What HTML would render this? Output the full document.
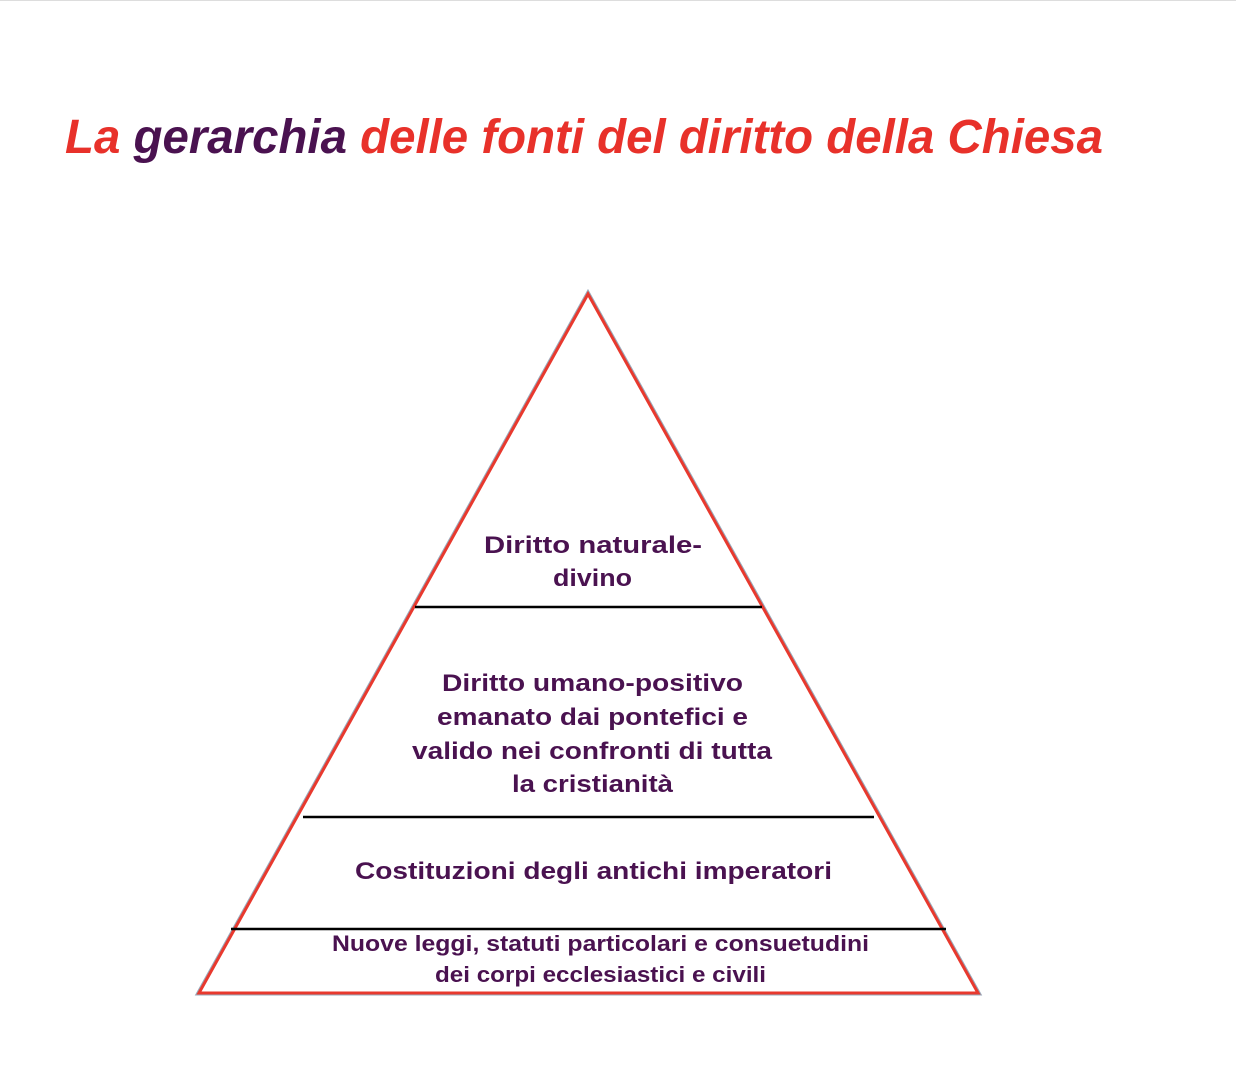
<!DOCTYPE html>
<html><head><meta charset="utf-8"><style>
html,body{margin:0;padding:0;background:#fff;width:1236px;height:1076px;overflow:hidden}
svg{display:block}
text{font-family:"Liberation Sans",sans-serif;font-weight:bold}
</style></head><body>
<svg width="1236" height="1076" viewBox="0 0 1236 1076" xmlns="http://www.w3.org/2000/svg">
<line x1="0" y1="0.5" x2="1236" y2="0.5" stroke="#ddd" stroke-width="1"/>
<text x="65" y="153" font-size="48" font-style="italic" textLength="1038" lengthAdjust="spacingAndGlyphs"><tspan fill="#e8312a">La </tspan><tspan fill="#4a1250">gerarchia </tspan><tspan fill="#e8312a">delle fonti del diritto della Chiesa</tspan></text>
<polygon points="588,294 199,993 978,993" fill="#fff" stroke="#9ab" stroke-width="5" stroke-linejoin="miter"/>
<polygon points="588,294 199,993 978,993" fill="#fff" stroke="#e8392e" stroke-width="3" stroke-linejoin="miter"/>
<g stroke="#000" stroke-width="2.5">
<line x1="415" y1="607" x2="762" y2="607"/>
<line x1="303" y1="817" x2="874" y2="817"/>
<line x1="231" y1="929" x2="946" y2="929"/>
</g>
<g fill="#4a1250" font-size="24">
<text x="484" y="553" textLength="218" lengthAdjust="spacingAndGlyphs">Diritto naturale-</text>
<text x="553" y="586" textLength="79" lengthAdjust="spacingAndGlyphs">divino</text>
<text x="442" y="691" textLength="301" lengthAdjust="spacingAndGlyphs">Diritto umano-positivo</text>
<text x="437" y="725" textLength="311" lengthAdjust="spacingAndGlyphs">emanato dai pontefici e</text>
<text x="412" y="759" textLength="360" lengthAdjust="spacingAndGlyphs">valido nei confronti di tutta</text>
<text x="512" y="792" textLength="161" lengthAdjust="spacingAndGlyphs">la cristianità</text>
<text x="355" y="879" textLength="477" lengthAdjust="spacingAndGlyphs">Costituzioni degli antichi imperatori</text>
<text x="332" y="951" font-size="22" textLength="537" lengthAdjust="spacingAndGlyphs">Nuove leggi, statuti particolari e consuetudini</text>
<text x="435" y="982" font-size="22" textLength="331" lengthAdjust="spacingAndGlyphs">dei corpi ecclesiastici e civili</text>
</g>
</svg>
</body></html>
